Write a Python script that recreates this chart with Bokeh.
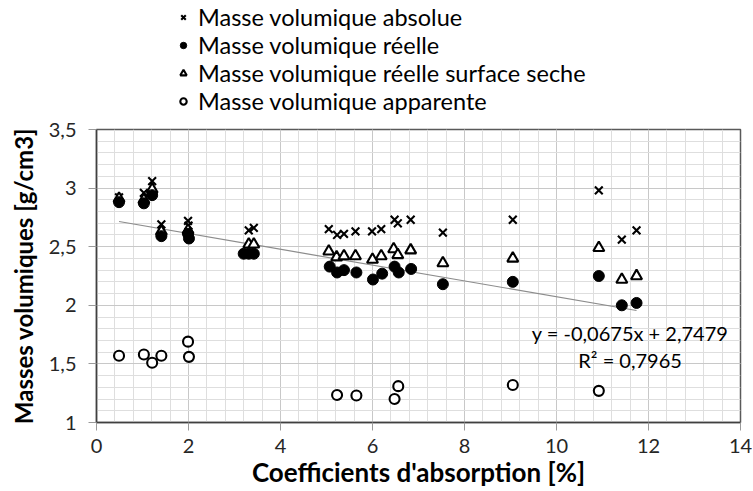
from bokeh.plotting import figure
from bokeh.layouts import column
from bokeh.models import (FixedTicker, Legend, LegendItem, Label, Range1d)
from bokeh.embed import file_html
from bokeh.resources import INLINE

# ---- data ----
abs_x = [0.49, 1.03, 1.21, 1.41, 1.99, 2.00, 3.31, 3.42, 5.05, 5.23, 5.38, 5.63, 5.99,
         6.19, 6.48, 6.55, 6.83, 7.53, 9.05, 10.92, 11.42, 11.74]
abs_y = [2.92, 2.96, 3.06, 2.69, 2.72, 2.68, 2.64, 2.66, 2.65, 2.60, 2.61, 2.63, 2.63,
         2.65, 2.73, 2.70, 2.73, 2.62, 2.73, 2.98, 2.56, 2.64]

reel_x = [0.49, 1.03, 1.21, 1.41, 1.99, 2.01, 3.20, 3.31, 3.42, 5.07, 5.23, 5.38, 5.65,
          6.01, 6.21, 6.48, 6.57, 6.84, 7.53, 9.05, 10.92, 11.42, 11.74]
reel_y = [2.88, 2.87, 2.94, 2.59, 2.61, 2.57, 2.44, 2.44, 2.44, 2.33, 2.28, 2.30, 2.28,
          2.22, 2.27, 2.33, 2.28, 2.31, 2.18, 2.20, 2.25, 2.00, 2.02]

sss_x = [0.49, 1.03, 1.21, 1.41, 1.99, 3.31, 3.42, 5.05, 5.22, 5.38, 5.63, 6.00, 6.19,
         6.46, 6.55, 6.83, 7.53, 9.05, 10.92, 11.42, 11.74]
sss_y = [2.91, 2.90, 2.99, 2.63, 2.64, 2.52, 2.52, 2.46, 2.41, 2.42, 2.42, 2.39, 2.42,
         2.48, 2.43, 2.47, 2.36, 2.40, 2.49, 2.22, 2.25]

app_x = [0.49, 1.03, 1.21, 1.41, 1.99, 2.01, 5.23, 5.65, 6.48, 6.56, 9.05, 10.92]
app_y = [1.57, 1.58, 1.51, 1.57, 1.69, 1.56, 1.235, 1.23, 1.20, 1.31, 1.32, 1.27]

trend_slope = -0.0675
trend_intercept = 2.7479
trend_r2 = 0.7965

series_names = ["Masse volumique absolue", "Masse volumique réelle",
                "Masse volumique réelle surface seche", "Masse volumique apparente"]

x_ticks = [0, 2, 4, 6, 8, 10, 12, 14]
y_ticks = [1, 1.5, 2, 2.5, 3, 3.5]
y_tick_labels = ["1", "1,5", "2", "2,5", "3", "3,5"]

FONT = "Lato"

STYLE_ABS = dict(marker="x", size=11, line_color="black", line_width=2.1)
STYLE_SSS = dict(marker="triangle", size=11, line_color="black", fill_color="white",
                 line_width=2.1)
STYLE_REEL = dict(marker="circle", size=11, line_color="black", fill_color="black")
STYLE_APP = dict(marker="circle", size=10, line_color="black", fill_color="white",
                 line_width=2.1)

# ---------- main chart ----------
p = figure(width=752, height=375, x_range=(0, 14), y_range=(1, 3.5),
           output_backend="svg", toolbar_location=None,
           min_border_left=96, min_border_right=12, min_border_top=14,
           min_border_bottom=67)
p.background_fill_color = "white"
p.outline_line_color = "#595959"
p.outline_line_width = 1.5

x_minor = [i * 0.4 for i in range(36)]
y_minor = [1 + i * 0.1 for i in range(26)]
p.xaxis.ticker = FixedTicker(ticks=x_ticks, minor_ticks=x_minor)
p.yaxis.ticker = FixedTicker(ticks=y_ticks, minor_ticks=y_minor)
p.xgrid.ticker = FixedTicker(ticks=x_ticks, minor_ticks=x_minor)
p.ygrid.ticker = FixedTicker(ticks=y_ticks, minor_ticks=y_minor)
for g in (p.xgrid, p.ygrid):
    g.grid_line_color = "#c8c8c8"
    g.grid_line_width = 1
    g.minor_grid_line_color = "#dedede"
    g.minor_grid_line_width = 1

p.yaxis.major_label_overrides = {t: l for t, l in zip(y_ticks, y_tick_labels)}

for ax in (p.xaxis, p.yaxis):
    ax.axis_line_color = "#404040"
    ax.axis_line_width = 1.5
    ax.major_tick_line_color = "#9a9a9a"
    ax.major_tick_out = 8
    ax.major_tick_in = 0
    ax.minor_tick_out = 0
    ax.minor_tick_in = 0
    ax.major_label_text_font = FONT
    ax.major_label_text_font_size = "20px"
    ax.major_label_text_color = "#262626"
    ax.axis_label_text_font = FONT
    ax.axis_label_text_font_style = "bold"
    ax.axis_label_text_color = "black"

p.xaxis.axis_label_text_font_size = "26px"
p.yaxis.axis_label_text_font_size = "24px"
p.xaxis.axis_label = "Coefficients d'absorption [%]"
p.yaxis.axis_label = "Masses volumiques [g/cm3]"
p.xaxis.major_label_standoff = 8
p.xaxis.axis_label_standoff = 0
p.yaxis.major_label_standoff = 12
p.yaxis.axis_label_standoff = 8

all_x = abs_x + reel_x + sss_x + app_x
tx = [min(all_x), max(all_x)]
ty = [trend_slope * v + trend_intercept for v in tx]
p.line(tx, ty, line_color="#8c8c8c", line_width=1.2)

p.scatter(abs_x, abs_y, **STYLE_ABS)
p.scatter(sss_x, sss_y, **STYLE_SSS)
p.scatter(reel_x, reel_y, **STYLE_REEL)
p.scatter(app_x, app_y, **STYLE_APP)

def fmt(v, n):
    return f"{v:.{n}f}".replace(".", ",")

eq1 = f"y = {fmt(trend_slope, 4)}x + {fmt(trend_intercept, 4)}"
eq2 = f"R² = {fmt(trend_r2, 4)}"
p.add_layout(Label(x=11.6, y=1.765, text=eq1, text_align="center", text_baseline="middle",
                   text_font=FONT, text_font_size="20px", text_color="black"))
p.add_layout(Label(x=11.6, y=1.535, text=eq2, text_align="center", text_baseline="middle",
                   text_font=FONT, text_font_size="20px", text_color="black"))

# ---------- legend strip on top (same series, plotted out of its view) ----------
lg = figure(width=752, height=115, x_range=Range1d(0, 14), y_range=Range1d(-10, -9),
            output_backend="svg", toolbar_location=None,
            x_axis_location=None, y_axis_location=None,
            min_border_left=0, min_border_right=0, min_border_top=0, min_border_bottom=0)
lg.outline_line_color = None
lg.xgrid.visible = False
lg.ygrid.visible = False
l_abs = lg.scatter(abs_x, abs_y, **STYLE_ABS)
l_reel = lg.scatter(reel_x, reel_y, **STYLE_REEL)
l_sss = lg.scatter(sss_x, sss_y, **STYLE_SSS)
l_app = lg.scatter(app_x, app_y, **STYLE_APP)

legend = Legend(items=[LegendItem(label=series_names[0], renderers=[l_abs]),
                       LegendItem(label=series_names[1], renderers=[l_reel]),
                       LegendItem(label=series_names[2], renderers=[l_sss]),
                       LegendItem(label=series_names[3], renderers=[l_app])],
                location=(79, 0), orientation="vertical",
                glyph_width=16, glyph_height=28, label_height=28, spacing=0,
                padding=0, margin=0, label_standoff=7,
                label_text_font=FONT, label_text_font_size="23.5px",
                label_text_color="black",
                border_line_color=None, background_fill_alpha=0)
lg.add_layout(legend, "center")

layout = column(lg, p, spacing=0)
open("out.html", "w").write(file_html(layout, INLINE))
